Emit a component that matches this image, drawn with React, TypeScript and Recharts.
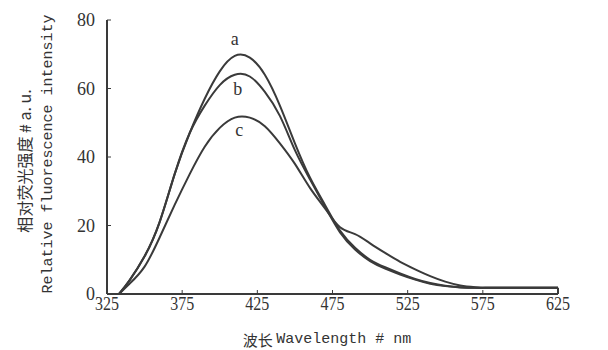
import { LineChart, Line, XAxis, YAxis, ReferenceDot } from 'recharts';

const wavelengths = [333, 340, 350, 360, 370, 380, 390, 400, 410, 420, 430, 440, 450, 460, 470, 480, 490, 500, 510, 520, 530, 540, 550, 560, 570, 580, 600, 625];
const seriesA = [0, 4, 11, 21, 35, 47, 57, 65, 69.5, 69, 64, 55, 44, 34, 26, 18.5, 13.5, 10, 7.8, 6, 4.4, 3.2, 2.4, 2, 1.8, 1.8, 1.8, 1.8];
const seriesB = [0, 4, 11, 21, 35, 47, 55, 61, 64, 63.5, 59, 52, 42, 33.5, 25.5, 18, 13, 9.6, 7.4, 5.7, 4.2, 3, 2.3, 1.9, 1.8, 1.8, 1.8, 1.8];
const seriesC = [0, 3, 8, 16.5, 26, 35, 43, 48.5, 51.5, 51.5, 49, 44, 38, 31, 25, 19.5, 17.5, 14.8, 12, 9.4, 7.2, 5.2, 3.6, 2.5, 2, 1.8, 1.8, 1.8];
// baseline closes down to zero at the right edge
const tailDrop = [{ w: 625, v: 1.8 }, { w: 625, v: 0 }];

const xTicks = [325, 375, 425, 475, 525, 575, 625];
const yTicks = [0, 20, 40, 60, 80];

const curveLabels = [
  { name: 'a', w: 410, v: 74.5 },
  { name: 'b', w: 412, v: 60 },
  { name: 'c', w: 413, v: 48 },
];

const data = wavelengths.map((w, i) => ({ w, a: seriesA[i], b: seriesB[i], c: seriesC[i] }));

const ink = '#3a3a3a';
const serif = '"Liberation Serif", serif';

const XTick = (props: any) => {
  const { x, y, payload } = props;
  const s = String(payload.value);
  return (
    <text x={x} y={y + 16} textAnchor="middle" textLength={s.length * 8} lengthAdjust="spacingAndGlyphs"
      style={{ fontFamily: serif, fontSize: 18, fill: '#333' }}>
      {s}
    </text>
  );
};

const YTick = (props: any) => {
  const { x, y, payload } = props;
  const s = String(payload.value);
  return (
    <text x={x} y={y + 6} textAnchor="end" textLength={s.length * 9} lengthAdjust="spacingAndGlyphs"
      style={{ fontFamily: serif, fontSize: 18, fill: '#333' }}>
      {s}
    </text>
  );
};

const YTitle = () => (
  <g>
    <text
      x={0}
      y={0}
      transform="translate(16,153) rotate(-90)"
      textAnchor="middle"
      dominantBaseline="central"
      style={{ fontFamily: '"Noto Sans CJK SC", sans-serif', fontSize: 16, fill: '#333' }}
    >
      相对荧光强度 # a. u.
    </text>
    <text
      x={0}
      y={0}
      transform="translate(40,146) rotate(-90)"
      textAnchor="middle"
      dominantBaseline="central"
      style={{ fontFamily: '"Liberation Mono", monospace', fontSize: 15, fill: '#333' }}
    >
      Relative fluorescence intensity
    </text>
  </g>
);

const XTitle = () => (
  <text
    x={319}
    y={331}
    textAnchor="middle"
    dominantBaseline="central"
    style={{ fontFamily: '"Liberation Mono", monospace', fontSize: 15, fill: '#333' }}
  >
    <tspan style={{ fontFamily: '"Noto Sans CJK SC", sans-serif' }}>波长 </tspan>Wavelength # nm
  </text>
);

export default function App() {
  return (
    <LineChart width={600} height={342} data={data} margin={{ top: 12, right: 50, left: 0, bottom: 0 }}>
      <XAxis
        dataKey="w"
        type="number"
        domain={[325, 625]}
        ticks={xTicks}
        interval={0}
        height={56}
        tickSize={-4}
        tickMargin={4}
        tick={<XTick />}
        stroke={ink}
        axisLine={{ stroke: ink, strokeWidth: 2 }}
        label={{ content: () => <XTitle /> }}
      />
      <YAxis
        type="number"
        domain={[0, 80]}
        ticks={yTicks}
        interval={0}
        width={99}
        tickSize={-4}
        tickMargin={16}
        tick={<YTick />}
        stroke={ink}
        axisLine={{ stroke: ink, strokeWidth: 2 }}
        label={{ content: () => <YTitle /> }}
      />
      <Line dataKey="a" type="natural" stroke={ink} strokeWidth={2} dot={false} isAnimationActive={false} />
      <Line dataKey="b" type="natural" stroke={ink} strokeWidth={2} dot={false} isAnimationActive={false} />
      <Line dataKey="c" type="natural" stroke={ink} strokeWidth={2} dot={false} isAnimationActive={false} />
      <Line data={tailDrop} dataKey="v" type="linear" stroke={ink} strokeWidth={2} dot={false} isAnimationActive={false} />
      {curveLabels.map((l) => (
        <ReferenceDot
          key={l.name}
          x={l.w}
          y={l.v}
          r={0}
          stroke="none"
          fill="none"
          label={{ value: l.name, position: 'center', style: { fontFamily: serif, fontSize: 18, fill: '#333' } }}
        />
      ))}
    </LineChart>
  );
}
